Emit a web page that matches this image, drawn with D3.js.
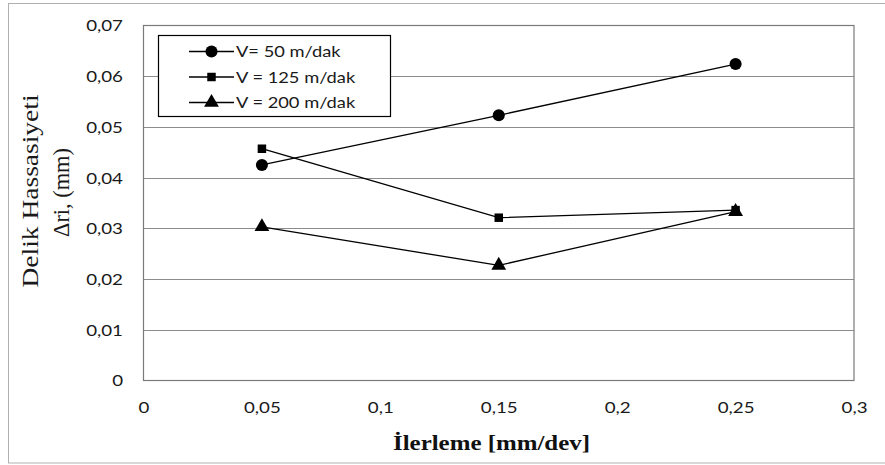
<!DOCTYPE html>
<html>
<head>
<meta charset="utf-8">
<script src="https://cdn.jsdelivr.net/npm/d3@7"></script>
<style>
  html, body { margin: 0; padding: 0; background: #fff; }
  svg { display: block; }
</style>
</head>
<body>
<svg id="chart" width="885" height="465"></svg>
<script>
// ---- data ----
const feeds = [0.05, 0.15, 0.25];
const seriesNames = ["V= 50 m/dak", "V = 125 m/dak", "V = 200 m/dak"];
const seriesMarkers = ["circle", "square", "triangle"];
const v50 = [0.0425, 0.0523, 0.0624];
const v125 = [0.0457, 0.0321, 0.0336];
const v200 = [0.0303, 0.0227, 0.0333];
const xTicks = [0, 0.05, 0.1, 0.15, 0.2, 0.25, 0.3];
const yTicks = [0, 0.01, 0.02, 0.03, 0.04, 0.05, 0.06, 0.07];
const xTitle = "İlerleme [mm/dev]";
const yTitle1 = "Delik Hassasiyeti";
const yTitle2 = "Δri, (mm)";

const seriesValues = [v50, v125, v200];

const svg = d3.select("#chart");
const fmt = d => String(d).replace(".", ",");

// outer chart frame
svg.append("rect")
  .attr("x", 8.5).attr("y", 3.5).attr("width", 890).attr("height", 459.5)
  .attr("fill", "#fff").attr("stroke", "#b0b0b0").attr("stroke-width", 1);

const plot = { left: 143.5, right: 854, top: 25.5, bottom: 380.5 };
const x = d3.scaleLinear().domain([0, 0.3]).range([plot.left, plot.right]);
const y = d3.scaleLinear().domain([0, 0.07]).range([plot.bottom, plot.top]);

// gridlines
svg.append("g").selectAll("line").data(yTicks.slice(1, -1)).join("line")
  .attr("x1", plot.left).attr("x2", plot.right)
  .attr("y1", d => Math.round(y(d)) + 0.5).attr("y2", d => Math.round(y(d)) + 0.5)
  .attr("stroke", "#8c8c8c").attr("stroke-width", 1.2);

// plot border
svg.append("rect")
  .attr("x", plot.left).attr("y", plot.top)
  .attr("width", plot.right - plot.left).attr("height", plot.bottom - plot.top)
  .attr("fill", "none").attr("stroke", "#7a7a7a").attr("stroke-width", 1.2);

const tickFont = "Lato, 'Open Sans', sans-serif";
const SX = 1.25;

// y axis labels
const yAxis = d3.axisLeft(y).tickValues(yTicks).tickFormat(fmt).tickSize(0).tickPadding(0);
const yg = svg.append("g").attr("transform", `translate(123,0)`).call(yAxis);
yg.select(".domain").remove();
yg.selectAll("text")
  .attr("font-family", tickFont).attr("font-size", 15).attr("fill", "#1a1a1a")
  .attr("x", 0).attr("dy", "0.36em")
  .attr("transform", function () {
    const t = d3.select(this.parentNode).attr("transform");
    return `scale(${SX},1)`;
  })
  .attr("transform-origin", "0 0");
// apply stretch around the anchor point (right edge)
yg.selectAll(".tick").each(function () {
  const tr = d3.select(this).attr("transform");
  d3.select(this).attr("transform", tr);
  d3.select(this).select("text").attr("transform", `scale(${SX},1)`);
});

// x axis labels
const xAxis = d3.axisBottom(x).tickValues(xTicks).tickFormat(fmt).tickSize(0).tickPadding(0);
const xg = svg.append("g").attr("transform", `translate(0,408)`).call(xAxis);
xg.select(".domain").remove();
xg.selectAll("text")
  .attr("font-family", tickFont).attr("font-size", 15).attr("fill", "#1a1a1a")
  .attr("y", 0).attr("dy", "0.36em")
  .attr("transform", `scale(${SX},1)`);

// series
const line = d3.line().x((d, i) => x(feeds[i])).y(d => y(d));
const sym = {
  circle: d3.symbol().type(d3.symbolCircle).size(115),
  square: d3.symbol().type(d3.symbolSquare).size(72),
  triangle: d3.symbol().type(d3.symbolTriangle).size(95)
};

seriesValues.forEach((vals, si) => {
  const g = svg.append("g");
  g.append("path").attr("d", line(vals))
    .attr("fill", "none").attr("stroke", "#000").attr("stroke-width", 1.3);
  g.selectAll("path.m").data(vals).join("path").attr("class", "m")
    .attr("d", sym[seriesMarkers[si]]())
    .attr("transform", (d, i) => `translate(${x(feeds[i])},${y(d)})`)
    .attr("fill", "#000");
});

// legend
const lg = svg.append("g");
lg.append("rect").attr("x", 158.5).attr("y", 35.5).attr("width", 232).attr("height", 81)
  .attr("fill", "#fff").attr("stroke", "#000").attr("stroke-width", 1.2);
const rowY = [51.5, 77, 102.5];
seriesNames.forEach((name, i) => {
  lg.append("line").attr("x1", 189).attr("x2", 234).attr("y1", rowY[i]).attr("y2", rowY[i])
    .attr("stroke", "#000").attr("stroke-width", 1.3);
  lg.append("path").attr("d", sym[seriesMarkers[i]]())
    .attr("transform", `translate(211.5,${rowY[i]})`).attr("fill", "#000");
  lg.append("text").attr("transform", `translate(236,${rowY[i]}) scale(1.18,1)`)
    .attr("dy", "0.36em")
    .attr("font-family", tickFont).attr("font-size", 15.5).attr("fill", "#1a1a1a")
    .text(name);
});

// axis titles
svg.append("text")
  .attr("x", 491.5).attr("y", 450)
  .attr("text-anchor", "middle")
  .attr("font-family", "'Liberation Serif', 'Times New Roman', serif")
  .attr("font-weight", "bold").attr("font-size", 20).attr("fill", "#111")
  .attr("textLength", 197).attr("lengthAdjust", "spacingAndGlyphs")
  .text(xTitle);

svg.append("text")
  .attr("transform", "translate(38,191) rotate(-90)")
  .attr("text-anchor", "middle")
  .attr("font-family", "'Liberation Serif', 'Times New Roman', serif")
  .attr("font-size", 23).attr("fill", "#1a1a1a")
  .attr("textLength", 193).attr("lengthAdjust", "spacingAndGlyphs")
  .text(yTitle1);

svg.append("text")
  .attr("transform", "translate(69,192.5) rotate(-90)")
  .attr("text-anchor", "middle")
  .attr("font-family", "'Liberation Serif', 'Times New Roman', serif")
  .attr("font-size", 23).attr("fill", "#1a1a1a")
  .attr("textLength", 89).attr("lengthAdjust", "spacingAndGlyphs")
  .text(yTitle2);
</script>
</body>
</html>
